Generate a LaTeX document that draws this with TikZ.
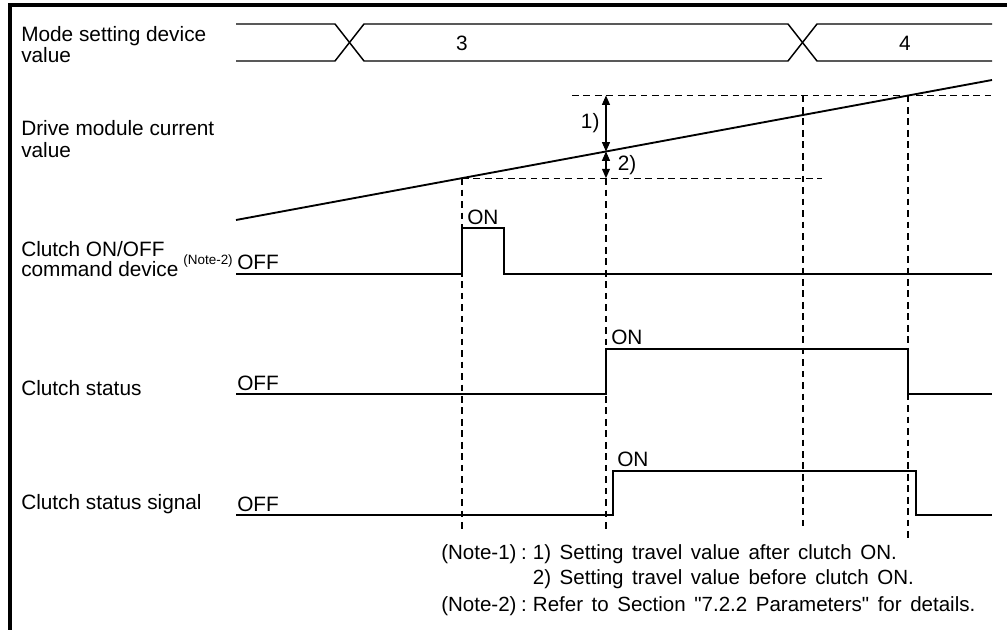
\documentclass[tikz,border=0pt]{standalone}
\usepackage{fontspec}
\setmainfont{Liberation Sans}
\usetikzlibrary{arrows.meta,calc,positioning}
\newcommand{\lblfont}{\fontsize{15.6}{15.75}\selectfont}
\newcommand{\notefont}{\fontsize{15.4}{18.4}\selectfont\spaceskip=6.4pt plus 1pt minus 1pt}
\newcommand{\tinyfont}{\fontsize{10.1}{10.1}\selectfont}
\newcommand{\notesep}{\hspace{3.5pt}:\hspace{4.5pt}}

\begin{document}
\begin{tikzpicture}[x=0.75pt,y=-0.75pt,line join=miter,
  frame/.style={line width=3pt},
  bus/.style={line width=1.1pt},
  sig/.style={line width=1.4pt},
  guide/.style={line width=0.8pt,dash pattern=on 5pt off 3.6pt},
  dim/.style={line width=0.8pt,{Triangle[length=7pt,width=6pt]}-{Triangle[length=7pt,width=6pt]}},
  lbl/.style={font=\lblfont,inner sep=0pt,anchor=base west},
  note/.style={font=\notefont,inner sep=0pt,anchor=base west}]
  \useasboundingbox (0,0) rectangle (1007,630);
  \draw[frame] (10,630) -- (10,5) -- (1007,5);
  \foreach \nm/\y/\t in {modeA/42/Mode setting device, modeB/63/value, curA/136/Drive module current, curB/158/value,
    cmdA/257/{Clutch ON/OFF}, cmdB/277/command device, stA/396/Clutch status, sigA/510/Clutch status signal}
    \node[lbl] (\nm) at (21,\y) {\t};
  \node[font=\tinyfont,inner sep=0pt,anchor=base east] (cmdnote) at (233,265) {(Note-2)};
  \draw[bus] (236,24) -- (335,24) -- (364,61) -- (788,61) -- (817,24) -- (992,24);
  \draw[bus] (236,61) -- (335,61) -- (364,24) -- (788,24) -- (817,61) -- (992,61);
  \node[font=\lblfont] (val3) at (462,43) {3};
  \node[font=\lblfont] (val4) at (905,43) {4};
  \coordinate (cv0) at (236,220); \coordinate (cv1) at (992,80);
  \draw[sig] (cv0) -- (cv1);
  \coordinate (pA) at ($(cv0)!0.2989!(cv1)$); \coordinate (pB) at ($(cv0)!0.4894!(cv1)$);
  \coordinate (pC) at ($(cv0)!0.7500!(cv1)$); \coordinate (pD) at ($(cv0)!0.8889!(cv1)$);
  \draw[guide] (pA) -- ++(360,0); \draw[guide] ($(pD)+(-336,0)$) -- ($(pD)+(84,0)$);
  \draw[guide] (pA) -- (pA |- 0,530); \draw[guide] (pB |- pA) -- (pB |- 0,530);
  \draw[guide] (pC |- pD) -- (pC |- 0,531); \draw[guide] (pD) -- (pD |- 0,538);
  \draw[dim] (pB |- pD) -- (pB) node[midway,left=4.5pt,font=\lblfont,inner sep=0pt] (dim1) {1)};
  \draw[dim] (pB) -- (pB |- pA) node[midway,right=8.5pt,font=\lblfont,inner sep=0pt] (dim2) {2)};
  \draw[sig] (236,274) -| (462,228) -| (504,274) -- (992,274);
  \draw[sig] (236,394) -| (606,349) -| (908,394) -- (992,394);
  \draw[sig] (236,515) -| (613,471) -| (916,515) -- (992,515);
  \foreach \nm/\y in {offA/270, offB/391, offC/512} \node[lbl] (\nm) at (237,\y) {OFF};
  \node[lbl] (onA) at (467,225) {ON};
  \node[lbl] (onB) at (611,345) {ON};
  \node[lbl] (onC) at (617,467) {ON};
  \node[note] (noteA) at (441,560) {(Note-1)\notesep\begin{tabular}[t]{@{}l@{}}1) Setting travel value after clutch ON.\\2) Setting travel value before clutch ON.\end{tabular}};
  \node[note] (noteB) at (441,611) {(Note-2)\notesep Refer to Section \textquotedbl 7.2.2 Parameters\textquotedbl{} for details.};
\end{tikzpicture}
\end{document}
